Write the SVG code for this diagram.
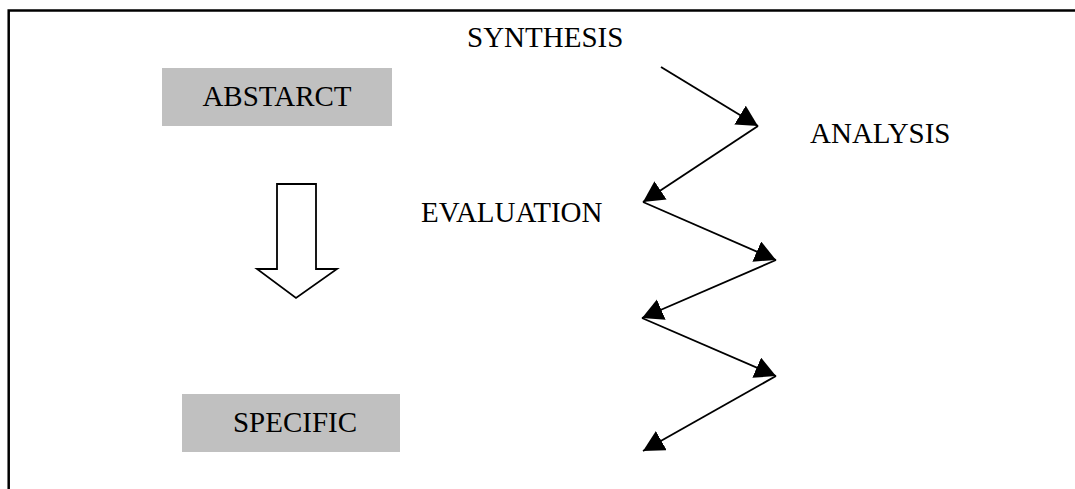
<svg xmlns="http://www.w3.org/2000/svg" width="1075" height="489" viewBox="0 0 1075 489">
  <style>
    .label { font-family: "Liberation Serif", "Times New Roman", serif; font-size: 29px; fill: #000; }
    .box { fill: #c0c0c0; }
    .flow { fill: none; stroke: #000; stroke-width: 1.9; marker-end: url(#tri); }
  </style>
  <defs>
    <marker id="tri" markerUnits="userSpaceOnUse" markerWidth="24" markerHeight="24" refX="21" refY="11" orient="auto">
      <path d="M0,0 L21,11 L0,22 z" fill="#000"/>
    </marker>
  </defs>
  <rect width="1075" height="489" fill="#fff"/>

  <!-- frame (left and top edges only) -->
  <path d="M8.7,489 V10.5 H1075" fill="none" stroke="#000" stroke-width="2.5"/>

  <g id="abstract">
    <rect class="box" x="162" y="68" width="230" height="58"/>
    <text class="label" x="277" y="106" text-anchor="middle">ABSTARCT</text>
  </g>

  <g id="specific">
    <rect class="box" x="182" y="394" width="218" height="58"/>
    <text class="label" x="295" y="432" text-anchor="middle">SPECIFIC</text>
  </g>

  <g id="down-arrow">
    <path d="M277,184 H316 V269 H337 L296,298 L257,269 H277 Z" fill="#fff" stroke="#000" stroke-width="1.8" stroke-linejoin="miter"/>
  </g>

  <g id="synthesis">
    <text class="label" x="467" y="47">SYNTHESIS</text>
  </g>
  <g id="analysis">
    <text class="label" x="810" y="143">ANALYSIS</text>
  </g>
  <g id="evaluation">
    <text class="label" x="421" y="222">EVALUATION</text>
  </g>

  <g id="connectors">
    <line class="flow" x1="661" y1="67" x2="758" y2="126"/>
    <line class="flow" x1="758" y1="126" x2="643" y2="202"/>
    <line class="flow" x1="643" y1="202" x2="776" y2="260"/>
    <line class="flow" x1="776" y1="260" x2="642" y2="318"/>
    <line class="flow" x1="642" y1="318" x2="776" y2="376"/>
    <line class="flow" x1="776" y1="376" x2="643" y2="451"/>
  </g>
</svg>
